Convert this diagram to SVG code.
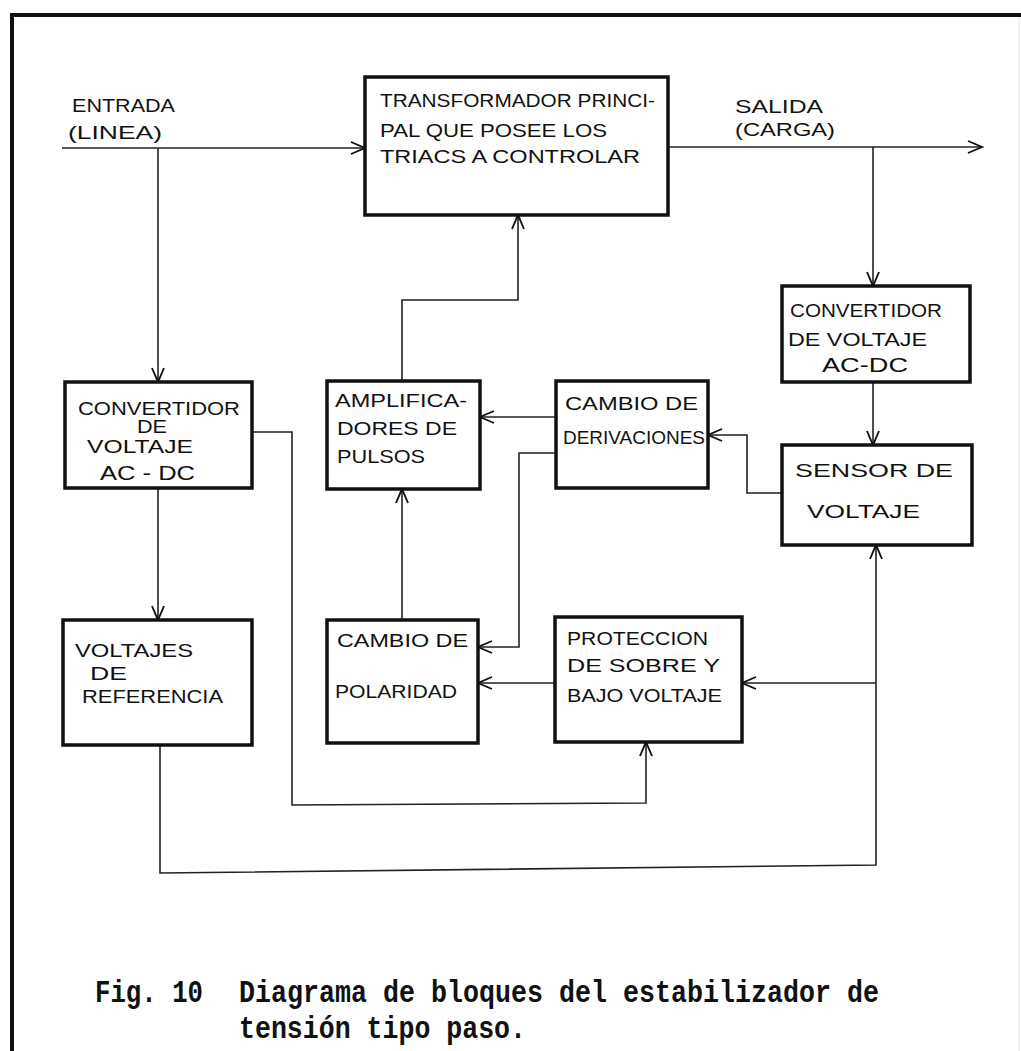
<svg xmlns="http://www.w3.org/2000/svg" width="1021" height="1051" viewBox="0 0 1021 1051">
<defs>
<marker id="arr" markerUnits="userSpaceOnUse" markerWidth="18" markerHeight="16" refX="15" refY="7" orient="auto">
<path d="M1,1 L15,7 L1,13" fill="none" stroke="#111" stroke-width="1.9"/>
</marker>
<style>
.box{fill:#fff;stroke:#111;stroke-width:3.5}
.ln{fill:none;stroke:#222;stroke-width:1.6}
.t{font-family:"Liberation Sans",Arial,sans-serif;font-size:18px;fill:#111}
.big{font-size:21px}
.cap{font-family:"Liberation Mono","Courier New",monospace;font-weight:bold;font-size:32px;fill:#111}
</style>
</defs>
<rect width="1021" height="1051" fill="#fff"/>
<path d="M12,1051 L12,15 L1021,15" fill="none" stroke="#111" stroke-width="4"/>
<line x1="1019" y1="17" x2="1019" y2="1051" stroke="#e2e2e2" stroke-width="1"/>

<g id="connectors">
<path class="ln" d="M62,148 L365,148" marker-end="url(#arr)"/>
<path class="ln" d="M158,148 L158,382" marker-end="url(#arr)"/>
<path class="ln" d="M252,432 L292,432 L292,805 L646,803 L646,742" marker-end="url(#arr)"/>
<path class="ln" d="M158,488 L158,620" marker-end="url(#arr)"/>
<path class="ln" d="M160,745 L160,873 L876,865 L876,545" marker-end="url(#arr)"/>
<path class="ln" d="M876,683 L742,683" marker-end="url(#arr)"/>
<path class="ln" d="M555,683 L478,683" marker-end="url(#arr)"/>
<path class="ln" d="M668,147 L982,147" marker-end="url(#arr)"/>
<path class="ln" d="M873,147 L873,286" marker-end="url(#arr)"/>
<path class="ln" d="M873,382 L873,445" marker-end="url(#arr)"/>
<path class="ln" d="M782,493 L747,493 L747,435 L708,435" marker-end="url(#arr)"/>
<path class="ln" d="M556,417 L480,417" marker-end="url(#arr)"/>
<path class="ln" d="M556,453 L519,453 L519,647 L478,647" marker-end="url(#arr)"/>
<path class="ln" d="M402,620 L402,489" marker-end="url(#arr)"/>
<path class="ln" d="M402,381 L402,300 L518,300 L518,215" marker-end="url(#arr)"/>
</g>

<g id="lbl-entrada">
<text class="t" x="72" y="112" textLength="103" lengthAdjust="spacingAndGlyphs">ENTRADA</text>
<text class="t" x="68" y="139" textLength="94" lengthAdjust="spacingAndGlyphs">(LINEA)</text>
</g>
<g id="lbl-salida">
<text class="t" x="735" y="113" textLength="88" lengthAdjust="spacingAndGlyphs">SALIDA</text>
<text class="t" x="735" y="136" textLength="100" lengthAdjust="spacingAndGlyphs">(CARGA)</text>
</g>

<g id="transformador">
<rect class="box" x="365" y="77" width="303" height="138"/>
<text class="t" x="380" y="107" textLength="275" lengthAdjust="spacingAndGlyphs">TRANSFORMADOR PRINCI-</text>
<text class="t" x="380" y="137" textLength="227" lengthAdjust="spacingAndGlyphs">PAL QUE POSEE LOS</text>
<text class="t" x="380" y="163" textLength="260" lengthAdjust="spacingAndGlyphs">TRIACS A CONTROLAR</text>
</g>

<g id="convertidor-entrada">
<rect class="box" x="65" y="382" width="187" height="106"/>
<text class="t" x="78" y="415" textLength="162" lengthAdjust="spacingAndGlyphs">CONVERTIDOR</text>
<text class="t" x="137" y="433" textLength="30" lengthAdjust="spacingAndGlyphs">DE</text>
<text class="t" x="87" y="453" textLength="106" lengthAdjust="spacingAndGlyphs">VOLTAJE</text>
<text class="t big" x="100" y="480" textLength="95" lengthAdjust="spacingAndGlyphs">AC - DC</text>
</g>

<g id="voltajes-referencia">
<rect class="box" x="63" y="620" width="189" height="125"/>
<text class="t" x="75" y="657" textLength="118" lengthAdjust="spacingAndGlyphs">VOLTAJES</text>
<text class="t" x="90" y="680" textLength="37" lengthAdjust="spacingAndGlyphs">DE</text>
<text class="t" x="82" y="703" textLength="141" lengthAdjust="spacingAndGlyphs">REFERENCIA</text>
</g>

<g id="amplificadores">
<rect class="box" x="327" y="381" width="153" height="108"/>
<text class="t" x="335" y="407" textLength="132" lengthAdjust="spacingAndGlyphs">AMPLIFICA-</text>
<text class="t" x="337" y="435" textLength="120" lengthAdjust="spacingAndGlyphs">DORES DE</text>
<text class="t" x="337" y="463" textLength="88" lengthAdjust="spacingAndGlyphs">PULSOS</text>
</g>

<g id="cambio-derivaciones">
<rect class="box" x="556" y="381" width="152" height="107"/>
<text class="t" x="565" y="410" textLength="133" lengthAdjust="spacingAndGlyphs">CAMBIO DE</text>
<text class="t" x="563" y="444" textLength="142" lengthAdjust="spacingAndGlyphs">DERIVACIONES</text>
</g>

<g id="cambio-polaridad">
<rect class="box" x="327" y="620" width="151" height="123"/>
<text class="t" x="337" y="647" textLength="131" lengthAdjust="spacingAndGlyphs">CAMBIO DE</text>
<text class="t" x="335" y="698" textLength="122" lengthAdjust="spacingAndGlyphs">POLARIDAD</text>
</g>

<g id="proteccion">
<rect class="box" x="555" y="617" width="187" height="125"/>
<text class="t" x="567" y="645" textLength="141" lengthAdjust="spacingAndGlyphs">PROTECCION</text>
<text class="t" x="567" y="672" textLength="153" lengthAdjust="spacingAndGlyphs">DE SOBRE Y</text>
<text class="t" x="567" y="702" textLength="155" lengthAdjust="spacingAndGlyphs">BAJO VOLTAJE</text>
</g>

<g id="convertidor-salida">
<rect class="box" x="782" y="286" width="188" height="96"/>
<text class="t" x="790" y="317" textLength="152" lengthAdjust="spacingAndGlyphs">CONVERTIDOR</text>
<text class="t" x="788" y="346" textLength="139" lengthAdjust="spacingAndGlyphs">DE VOLTAJE</text>
<text class="t big" x="822" y="372" textLength="86" lengthAdjust="spacingAndGlyphs">AC-DC</text>
</g>

<g id="sensor">
<rect class="box" x="782" y="445" width="190" height="100"/>
<text class="t" x="795" y="477" textLength="158" lengthAdjust="spacingAndGlyphs">SENSOR DE</text>
<text class="t" x="807" y="518" textLength="113" lengthAdjust="spacingAndGlyphs">VOLTAJE</text>
</g>

<g id="caption">
<text class="cap" x="95" y="1002" textLength="108" lengthAdjust="spacingAndGlyphs">Fig. 10</text>
<text class="cap" x="239" y="1002" textLength="640" lengthAdjust="spacingAndGlyphs">Diagrama de bloques del estabilizador de</text>
<text class="cap" x="239" y="1038" textLength="287" lengthAdjust="spacingAndGlyphs">tensión tipo paso.</text>
</g>
</svg>
